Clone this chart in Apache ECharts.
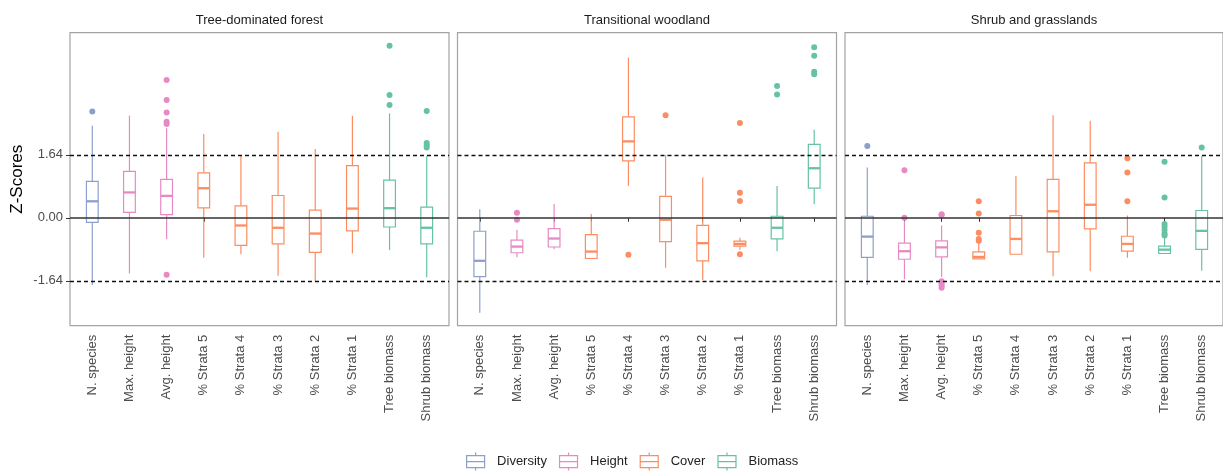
<!DOCTYPE html>
<html>
<head>
<meta charset="utf-8">
<script src="https://cdn.jsdelivr.net/npm/echarts@6/dist/echarts.min.js"></script>
<style>
html,body{margin:0;padding:0;background:#fff;}
#chart{width:1223px;height:471px;}
</style>
</head>
<body>
<div id="chart"></div>
<script>
// ---------------- DATA ----------------
const PANEL_TITLES = ['Tree-dominated forest', 'Transitional woodland', 'Shrub and grasslands'];
const CATEGORIES = ['N. species', 'Max. height', 'Avg. height', '% Strata 5', '% Strata 4',
                    '% Strata 3', '% Strata 2', '% Strata 1', 'Tree biomass', 'Shrub biomass'];
const CATEGORY_GROUP = ['Diversity', 'Height', 'Height', 'Cover', 'Cover',
                        'Cover', 'Cover', 'Cover', 'Biomass', 'Biomass'];
const GROUPS = ['Diversity', 'Height', 'Cover', 'Biomass'];
const GROUP_COLORS = ['#8DA0CB', '#E78AC3', '#FC8D62', '#66C2A5'];
const Y_TICKS = [-1.64, 0, 1.64];
const REF_LINES = [-1.64, 0, 1.64];

// [lower whisker, Q1, median, Q3, upper whisker] per category
const TREE_FOREST_BOX = [
  [-1.75, -0.12, 0.43, 0.95, 2.40],
  [-1.45, 0.14, 0.66, 1.21, 2.66],
  [-0.56, 0.08, 0.57, 1.00, 2.33],
  [-1.04, 0.26, 0.77, 1.17, 2.18],
  [-0.95, -0.72, -0.20, 0.31, 1.61],
  [-1.51, -0.68, -0.26, 0.58, 2.24],
  [-1.65, -0.90, -0.41, 0.20, 1.79],
  [-0.93, -0.34, 0.24, 1.36, 2.66],
  [-0.84, -0.24, 0.25, 0.98, 2.72],
  [-1.55, -0.68, -0.26, 0.28, 1.61]
];
const TREE_FOREST_OUTLIERS = [
  [2.77], [], [3.59, 3.07, 2.74, 2.50, 2.44, -1.48], [], [], [], [], [],
  [4.48, 3.20, 2.94], [2.78, 1.95, 1.89, 1.83]
];
const WOODLAND_BOX = [
  [-2.47, -1.53, -1.12, -0.35, 0.22],
  [-1.03, -0.91, -0.75, -0.58, -0.31],
  [-0.82, -0.76, -0.54, -0.28, 0.36],
  [-1.06, -1.06, -0.88, -0.44, 0.10],
  [0.83, 1.48, 1.99, 2.63, 4.17],
  [-1.30, -0.62, -0.05, 0.56, 1.63],
  [-1.62, -1.12, -0.66, -0.20, 1.05],
  [-0.83, -0.74, -0.68, -0.61, -0.52],
  [-0.87, -0.55, -0.26, 0.04, 0.83],
  [0.35, 0.77, 1.29, 1.91, 2.29]
];
const WOODLAND_OUTLIERS = [
  [], [0.13, -0.05], [], [], [-0.96], [2.67], [], [2.47, 0.65, 0.44, -0.95],
  [3.43, 3.21], [4.44, 4.22, 3.80, 3.74]
];
const SHRUB_BOX = [
  [-1.75, -1.03, -0.49, 0.04, 1.31],
  [-1.60, -1.08, -0.87, -0.66, -0.09],
  [-1.54, -1.02, -0.77, -0.60, -0.20],
  [-1.07, -1.07, -1.02, -0.89, -0.65],
  [-0.95, -0.95, -0.55, 0.06, 1.09],
  [-1.52, -0.89, 0.17, 1.00, 2.67],
  [-1.39, -0.29, 0.34, 1.43, 2.53],
  [-1.04, -0.87, -0.68, -0.48, 0.06],
  [-0.94, -0.93, -0.83, -0.74, -0.49],
  [-1.38, -0.82, -0.34, 0.19, 1.61]
];
const SHRUB_OUTLIERS = [
  [1.87], [1.24, 0.00], [0.09, 0.07, -1.65, -1.71, -1.77, -1.82], [0.43, 0.11, -0.39, -0.55, -0.60],
  [], [], [], [1.55, 1.18, 0.43], [1.46, 0.53, -0.16, -0.23, -0.32, -0.41, -0.46], [1.83]
];

// ---------------- LAYOUT ----------------
const BOXES = [TREE_FOREST_BOX, WOODLAND_BOX, SHRUB_BOX];
const OUTLIERS = [TREE_FOREST_OUTLIERS, WOODLAND_OUTLIERS, SHRUB_OUTLIERS];
const PANEL_LEFT = [70, 457.5, 845];
const PANEL_WIDTH = 379;
const PANEL_TOP = 32.7;
const PANEL_HEIGHT = 293;
const Y_MIN = -2.81, Y_MAX = 4.82;
const UNIT = PANEL_WIDTH / 10.2;           // ggplot discrete expansion of 0.6 units
const INSET = 0.1 * UNIT;
const FONT = "'Liberation Sans', Arial, sans-serif";

const ICON = 'path://M10,0L10,3M1,3L19,3L19,15L1,15ZM1,9L19,9M10,15L10,18';

const grids = [], xAxes = [], yAxes = [], series = [];

function boxRender(color) {
  return function (params, api) {
    const x = api.value(0);
    const pLo = api.coord([x, api.value(1)]);
    const pQ1 = api.coord([x, api.value(2)]);
    const pMd = api.coord([x, api.value(3)]);
    const pQ3 = api.coord([x, api.value(4)]);
    const pHi = api.coord([x, api.value(5)]);
    const half = api.size([1, 0])[0] * 0.158;
    const cx = pMd[0];
    const st = { stroke: color, lineWidth: 1.2 };
    return {
      type: 'group',
      children: [
        { type: 'line', shape: { x1: cx, y1: pHi[1], x2: cx, y2: pQ3[1] }, style: st },
        { type: 'line', shape: { x1: cx, y1: pQ1[1], x2: cx, y2: pLo[1] }, style: st },
        { type: 'rect', shape: { x: cx - half, y: pQ3[1], width: 2 * half, height: pQ1[1] - pQ3[1] },
          style: { fill: '#fff', stroke: color, lineWidth: 1.2 } },
        { type: 'line', shape: { x1: cx - half, y1: pMd[1], x2: cx + half, y2: pMd[1] },
          style: { stroke: color, lineWidth: 2.3 } }
      ]
    };
  };
}

for (let p = 0; p < 3; p++) {
  const bx = 2 * p, dx = 2 * p + 1;
  grids.push({ left: PANEL_LEFT[p], top: PANEL_TOP, width: PANEL_WIDTH, height: PANEL_HEIGHT,
               show: true, borderColor: '#a3a3a3', borderWidth: 1.2, backgroundColor: 'transparent' });
  grids.push({ left: PANEL_LEFT[p] + INSET, top: PANEL_TOP, width: PANEL_WIDTH - 2 * INSET, height: PANEL_HEIGHT });

  xAxes.push({
    type: 'value', gridIndex: bx, min: 0, max: 1, position: 'top',
    axisLine: { show: false }, axisTick: { show: false }, axisLabel: { show: false }, splitLine: { show: false },
    name: PANEL_TITLES[p], nameLocation: 'middle', nameGap: 6,
    nameTextStyle: { fontSize: 13, color: '#1a1a1a', fontFamily: FONT }
  });
  xAxes.push({
    type: 'category', gridIndex: dx, data: CATEGORIES, position: 'bottom',
    axisLine: { show: false },
    axisTick: { show: true, alignWithLabel: true, length: 4, lineStyle: { color: '#333', width: 1 } },
    axisLabel: { rotate: 90, interval: 0, fontSize: 13, color: '#4d4d4d', margin: 9, fontFamily: FONT },
    splitLine: { show: false }
  });

  yAxes.push({
    type: 'value', gridIndex: bx, min: Y_MIN, max: Y_MAX,
    axisLine: { show: false },
    splitLine: { show: false },
    axisTick: { show: p === 0, customValues: Y_TICKS, length: 4, lineStyle: { color: '#333', width: 1 } },
    axisLabel: { show: p === 0, customValues: Y_TICKS, formatter: v => v.toFixed(2),
                 fontSize: 13, color: '#4d4d4d', margin: 7, fontFamily: FONT },
    name: p === 0 ? 'Z-Scores' : '', nameLocation: 'middle', nameGap: 44,
    nameTextStyle: { fontSize: 17, color: '#000', fontFamily: FONT }
  });
  yAxes.push({ type: 'value', gridIndex: dx, min: Y_MIN, max: Y_MAX, show: false, splitLine: { show: false } });

  // reference lines spanning the whole panel
  series.push({
    type: 'line', xAxisIndex: bx, yAxisIndex: bx, data: [], z: 1, silent: true,
    markLine: {
      silent: true, symbol: ['none', 'none'], animation: false, label: { show: false },
      data: REF_LINES.map(v => ({
        yAxis: v,
        lineStyle: v === 0 ? { type: 'solid', color: '#333', width: 1.6 }
                           : { type: [4, 3], color: '#111', width: 1.4 }
      }))
    }
  });

  GROUPS.forEach((g, gi) => {
    const color = GROUP_COLORS[gi];
    const boxData = [], outData = [];
    CATEGORIES.forEach((c, ci) => {
      if (CATEGORY_GROUP[ci] !== g) return;
      boxData.push([ci].concat(BOXES[p][ci]));
      OUTLIERS[p][ci].forEach(v => outData.push([ci, v]));
    });
    series.push({
      name: g, type: 'custom', xAxisIndex: dx, yAxisIndex: dx, z: 3,
      itemStyle: { color: color },
      encode: { x: 0, y: [1, 2, 3, 4, 5] },
      renderItem: boxRender(color),
      data: boxData
    });
    series.push({
      name: g, type: 'scatter', xAxisIndex: dx, yAxisIndex: dx, z: 4,
      symbol: 'circle', symbolSize: 6,
      itemStyle: { color: color, opacity: 1 },
      data: outData
    });
  });
}

const option = {
  animation: false,
  backgroundColor: '#fff',
  textStyle: { fontFamily: FONT },
  grid: grids,
  xAxis: xAxes,
  yAxis: yAxes,
  legend: {
    left: 461, top: 447, orient: 'horizontal',
    itemWidth: 19, itemHeight: 18, itemGap: 12,
    textStyle: { fontSize: 13, color: '#222', fontFamily: FONT, padding: [0, 0, 0, 7] },
    data: GROUPS.map((g, gi) => ({
      name: g, icon: ICON,
      itemStyle: { color: 'rgba(0,0,0,0)', borderColor: GROUP_COLORS[gi], borderWidth: 1.2 }
    }))
  },
  series: series
};

const chart = echarts.init(document.getElementById('chart'), null, { renderer: 'canvas' });
chart.setOption(option);
</script>
</body>
</html>
